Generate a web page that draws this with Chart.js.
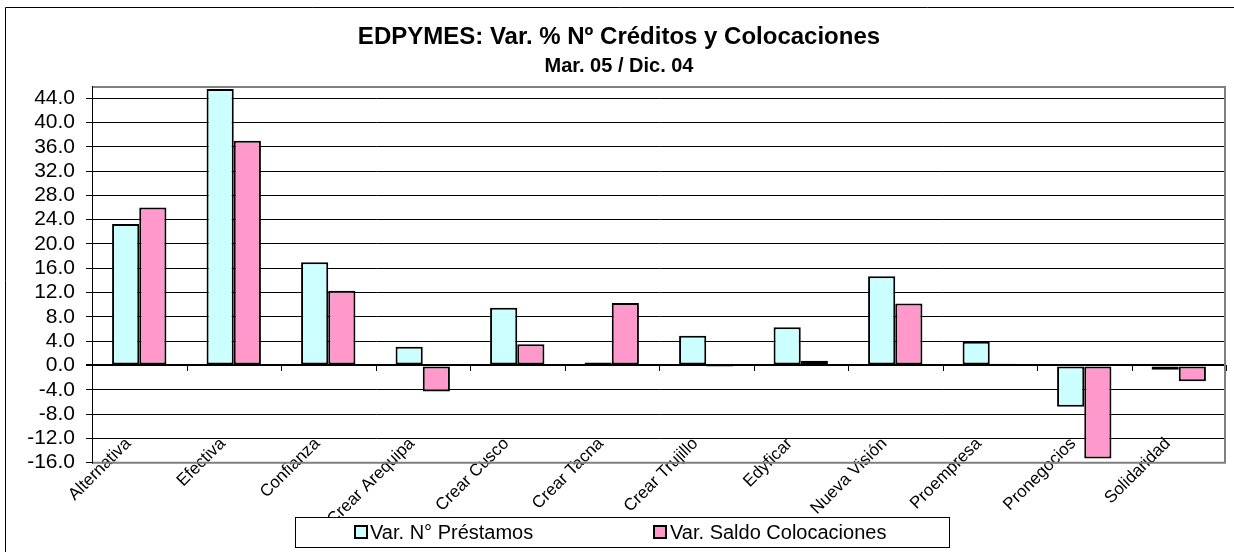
<!DOCTYPE html>
<html>
<head>
<meta charset="utf-8">
<script src="https://cdn.jsdelivr.net/npm/chart.js@4"></script>
<style>
  html, body { margin: 0; padding: 0; background: #fff; }
  #wrap { width: 1234px; height: 552px; }
</style>
</head>
<body>
<div id="wrap"><canvas id="c" width="1234" height="552"></canvas></div>
<script>
const titleText = 'EDPYMES: Var. % Nº Créditos y Colocaciones';
const subtitleText = 'Mar. 05 / Dic. 04';
const categories = ['Alternativa', 'Efectiva', 'Confianza', 'Crear Arequipa', 'Crear Cusco', 'Crear Tacna', 'Crear Trujillo', 'Edyficar', 'Nueva Visión', 'Proempresa', 'Pronegocios', 'Solidaridad'];
const seriesNames = ['Var. N° Préstamos', 'Var. Saldo Colocaciones'];
const prestamos = [23.3, 45.5, 17.0, 3.1, 9.5, 0.5, 4.9, 6.3, 14.7, 3.9, -6.8, -0.7];
const colocaciones = [26.0, 37.0, 12.3, -4.3, 3.5, 10.3, -0.1, 0.8, 10.2, 0.3, -15.3, -2.6];
const yTickValues = [-16, -12, -8, -4, 0, 4, 8, 12, 16, 20, 24, 28, 32, 36, 40, 44];
const yMin = -16, yMax = 46;

const FONT = '"Liberation Sans", Arial, sans-serif';
const colors = ['#CCFFFF', '#FF99CC'];

const decor = {
  id: 'decor',
  beforeDraw(chart) {
    const ctx = chart.ctx;
    ctx.save();
    ctx.fillStyle = '#fff';
    ctx.fillRect(0, 0, chart.width, chart.height);
    ctx.restore();
    // let the rotated category labels reach up into the plot area (as in the original)
    const xs = chart.scales.x;
    xs._computeLabelArea = () => ({ top: 0, left: 0, bottom: chart.height, right: chart.width });
  },
  afterDraw(chart) {
    const ctx = chart.ctx;
    const a = chart.chartArea;
    const y = chart.scales.y;
    ctx.save();
    // outer frame
    ctx.strokeStyle = '#000';
    ctx.lineWidth = 1;
    ctx.beginPath();
    ctx.moveTo(5.5, 600);
    ctx.lineTo(5.5, 7.5);
    ctx.lineTo(1300, 7.5);
    ctx.stroke();
    // plot area frame (grey)
    ctx.strokeStyle = '#808080';
    ctx.lineWidth = 2;
    ctx.beginPath();
    ctx.moveTo(a.left, a.top + 1);
    ctx.lineTo(a.right - 1, a.top + 1);
    ctx.lineTo(a.right - 1, a.bottom);
    ctx.lineTo(a.left, a.bottom);
    ctx.stroke();
    // left axis line black
    ctx.strokeStyle = '#000';
    ctx.lineWidth = 1;
    ctx.beginPath();
    ctx.moveTo(Math.round(a.left) + 0.5, a.top);
    ctx.lineTo(Math.round(a.left) + 0.5, a.bottom + 1);
    ctx.stroke();
    // category tick marks on zero line
    const y0 = Math.round(y.getPixelForValue(0));
    const n = categories.length;
    const w = (a.right - a.left) / n;
    ctx.beginPath();
    for (let i = 1; i <= n; i++) {
      const bx = Math.round(a.left + i * w) + 0.5;
      ctx.moveTo(bx, y0);
      ctx.lineTo(bx, y0 + 6);
    }
    ctx.stroke();
    // legend box
    const lx = 295.5, ly = 517.5, lw = 654, lh = 30;
    ctx.fillStyle = '#fff';
    ctx.fillRect(lx, ly, lw, lh);
    ctx.strokeStyle = '#000';
    ctx.lineWidth = 1;
    ctx.strokeRect(lx, ly, lw, lh);
    const items = [{ sx: 355, tx: 370 }, { sx: 654, tx: 670 }];
    ctx.font = '20px ' + FONT;
    ctx.textBaseline = 'middle';
    ctx.textAlign = 'left';
    chart.data.datasets.forEach((ds, i) => {
      const it = items[i];
      ctx.fillStyle = ds.backgroundColor;
      ctx.fillRect(it.sx, 526, 12, 12);
      ctx.strokeStyle = '#000';
      ctx.lineWidth = 2;
      ctx.strokeRect(it.sx, 526, 12, 12);
      ctx.fillStyle = '#000';
      ctx.fillText(ds.label, it.tx, 533);
    });
    ctx.restore();
  }
};

new Chart(document.getElementById('c'), {
  type: 'bar',
  data: {
    labels: categories,
    datasets: [
      { label: seriesNames[0], data: prestamos, backgroundColor: colors[0], borderColor: '#000', borderWidth: 2, borderSkipped: false },
      { label: seriesNames[1], data: colocaciones, backgroundColor: colors[1], borderColor: '#000', borderWidth: 2, borderSkipped: false }
    ]
  },
  options: {
    responsive: false,
    animation: false,
    devicePixelRatio: 1,
    layout: { padding: { left: 12, right: 8, top: 0, bottom: 0 } },
    datasets: { bar: { categoryPercentage: 0.575, barPercentage: 1.0 } },
    plugins: {
      legend: { display: false },
      tooltip: { enabled: false },
      title: {
        display: true,
        text: titleText,
        color: '#000',
        font: { family: FONT, size: 24, weight: 'bold' },
        padding: { top: 22.6, bottom: 0 }
      },
      subtitle: {
        display: true,
        text: subtitleText,
        color: '#000',
        font: { family: FONT, size: 20, weight: 'bold' },
        padding: { top: 3.1, bottom: 7.5 }
      }
    },
    scales: {
      x: {
        grid: { display: false },
        border: { display: false },
        ticks: {
          color: '#000',
          font: { family: FONT, size: 17 },
          autoSkip: false,
          maxRotation: 45,
          minRotation: 45,
          padding: -37,
          labelOffset: -11
        },
        afterFit(scale) { scale.height = 89.3; }
      },
      y: {
        min: yMin,
        max: yMax,
        afterBuildTicks(scale) {
          scale.ticks = yTickValues.map(v => ({ value: v }));
        },
        ticks: {
          autoSkip: false,
          color: '#000',
          font: { family: FONT, size: 21 },
          padding: 11,
          callback: v => Number(v).toFixed(1)
        },
        grid: {
          color: '#000',
          tickColor: '#000',
          tickLength: 6,
          lineWidth: ctx => (ctx.tick && ctx.tick.value === 0) ? 2 : 1
        },
        border: { display: true, color: '#000', width: 1 },
        afterFit(scale) { scale.width = 80; }
      }
    }
  },
  plugins: [decor]
});
</script>
</body>
</html>
